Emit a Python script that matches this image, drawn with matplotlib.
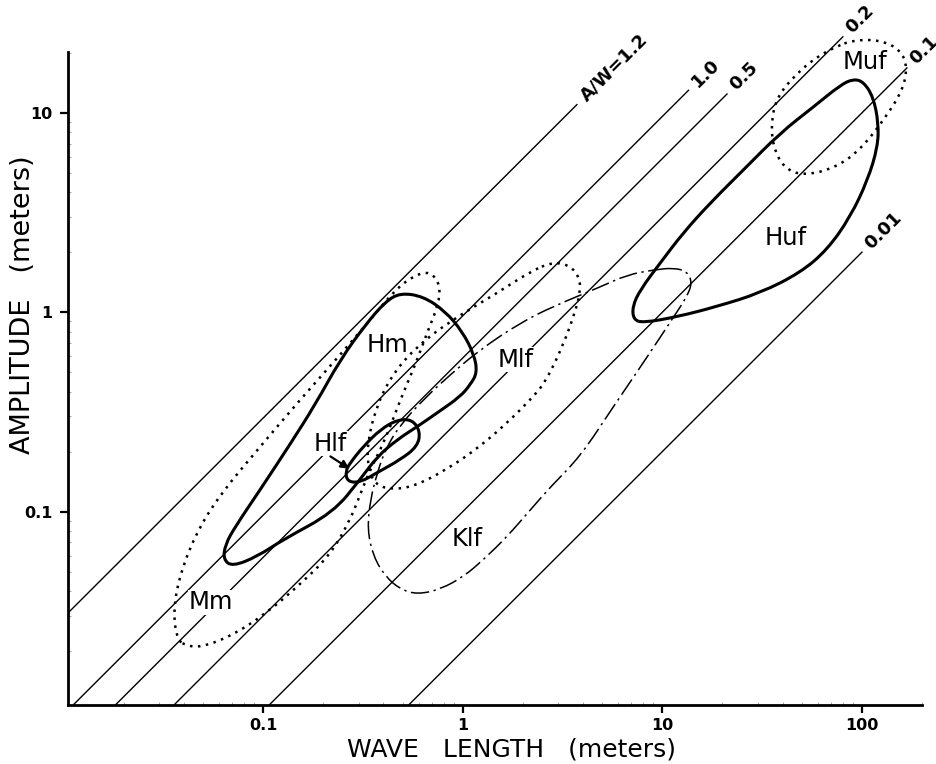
import numpy as np
import matplotlib
matplotlib.use("Agg")
from matplotlib import pyplot as plt
from matplotlib.path import Path
from matplotlib.patches import PathPatch

# A/W reference lines (ratio as drawn, label, wave length where the line stops)
aw_labels = ["A/W=1.2", "1.0", "0.5", "0.2", "0.1", "0.01"]
aw_ratio = [2.95, 0.96, 0.59, 0.30, 0.10, 0.020]
aw_end_w = [3.75, 13.6, 21.2, 80.7, 169, 100.6]

# outlines of the fields, (wave length, amplitude) in meters
hm_w = [0.486, 0.634, 0.817, 0.994, 1.14, 1.18, 1.09, 0.97, 0.745, 0.592, 0.47, 0.373, 0.306,
        0.224, 0.126, 0.0933, 0.070, 0.063, 0.0645, 0.0724, 0.0966, 0.136, 0.182, 0.243, 0.325, 0.409]
hm_a = [1.25, 1.20, 1.01, 0.80, 0.612, 0.497, 0.433, 0.377, 0.313, 0.267, 0.23, 0.189, 0.145,
        0.0989, 0.0724, 0.0595, 0.053, 0.0575, 0.0684, 0.0841, 0.129, 0.217, 0.344, 0.578, 0.865, 1.13]

hlf_w = [0.258, 0.264, 0.306, 0.373, 0.486, 0.592, 0.612, 0.558, 0.47, 0.386, 0.317, 0.273]
hlf_a = [0.159, 0.141, 0.140, 0.157, 0.182, 0.212, 0.252, 0.289, 0.289, 0.258, 0.212, 0.176]

mm_w = [0.0371, 0.0354, 0.0375, 0.0456, 0.0608, 0.0966, 0.153, 0.243, 0.344, 0.459, 0.578, 0.687,
        0.771, 0.754, 0.671, 0.578, 0.486, 0.409, 0.344, 0.306, 0.273, 0.217, 0.153, 0.102,
        0.0684, 0.0483, 0.0407]
mm_a = [0.0228, 0.0305, 0.0456, 0.0767, 0.122, 0.212, 0.364, 0.612, 0.917, 1.30, 1.54, 1.60,
        1.37, 1.09, 0.817, 0.546, 0.364, 0.23, 0.163, 0.122, 0.0912, 0.0608, 0.0431, 0.0305,
        0.0236, 0.0208, 0.0213]

mlf_w = [2.84, 3.46, 3.84, 3.88, 3.66, 3.19, 2.59, 2.18, 1.67, 1.22, 0.836, 0.565, 0.433, 0.364,
         0.336, 0.332, 0.364, 0.433, 0.565, 0.836, 1.49, 2.18]
mlf_a = [1.79, 1.71, 1.49, 1.27, 1.01, 0.687, 0.444, 0.364, 0.279, 0.212, 0.163, 0.133, 0.129,
         0.137, 0.163, 0.217, 0.325, 0.47, 0.649, 0.885, 1.25, 1.60]

klf_w = [11.4, 13.3, 14.1, 13.3, 11.4, 8.41, 5.68, 3.88, 2.75, 2.18, 1.67, 1.27, 1.01, 0.771,
         0.592, 0.486, 0.409, 0.356, 0.332, 0.344, 0.373, 0.409, 0.486, 0.649, 0.865, 1.22,
         1.94, 2.84, 4.89, 6.67, 9.02]
klf_a = [1.67, 1.60, 1.41, 1.20, 0.949, 0.598, 0.336, 0.189, 0.133, 0.102, 0.075, 0.0574, 0.0472,
         0.0407, 0.0384, 0.0407, 0.0472, 0.0595, 0.0813, 0.115, 0.157, 0.205, 0.273, 0.373, 0.486,
         0.649, 0.885, 1.07, 1.34, 1.54, 1.63]

huf_w = [7.16, 8.04, 11.9, 18.9, 31.0, 49.2, 67.1, 87.5, 107, 120, 121, 114, 102, 90.7, 78, 57.1,
         39, 25.5, 17.4, 12.7, 9.77, 7.76, 7.08]
huf_a = [0.917, 0.885, 0.949, 1.07, 1.25, 1.58, 2.06, 3.01, 4.61, 6.76, 8.91, 12.0, 14.3, 14.8,
         13.8, 10.7, 7.94, 5.18, 3.54, 2.5, 1.77, 1.30, 1.07]

muf_w = [90.7, 124, 156, 169, 160, 131, 98.2, 73.6, 50.9, 40.4, 35.6, 35.2, 38.1, 46.4, 58.5, 73.6]
muf_a = [23.2, 23.2, 20.7, 17.0, 13.0, 9.44, 6.53, 5.30, 4.83, 5.30, 6.92, 9.44, 12.3, 15.5, 18.9, 21.4]

# field names and where they are written
field_names = ["Hm", "Mlf", "Hlf", "Klf", "Mm", "Huf", "Muf"]
field_label_w = [0.418, 1.83, 0.217, 1.05, 0.0548, 41.4, 104]
field_label_a = [0.687, 0.578, 0.219, 0.0724, 0.035, 2.36, 18.0]
hlf_arrow_from = (0.217, 0.189)
hlf_arrow_to = (0.27, 0.164)

x_ticks = [0.1, 1, 10, 100]
x_tick_labels = ["0.1", "1", "10", "100"]
y_ticks = [0.1, 1, 10]
y_tick_labels = ["0.1", "1", "10"]
x_range = (0.0105, 200)
y_range = (0.0107, 20.2)


def smooth_outline(ws, amps):
    """Closed quadratic bezier through the midpoints (geometric, log axes)."""
    pts = np.column_stack([ws, amps]).astype(float)
    mids = np.sqrt(pts * np.roll(pts, -1, axis=0))
    verts = [mids[-1]]
    codes = [Path.MOVETO]
    for i in range(len(pts)):
        verts += [pts[i], mids[i]]
        codes += [Path.CURVE3, Path.CURVE3]
    return Path(verts, codes)


fig = plt.figure(figsize=(9.37, 7.64), dpi=100)
ax = fig.add_axes([68 / 937, 59 / 764, 854 / 937, 653 / 764])
ax.set_xscale("log")
ax.set_yscale("log")
ax.set_xlim(*x_range)
ax.set_ylim(*y_range)

# A/W lines
for label, r, w_end in zip(aw_labels, aw_ratio, aw_end_w):
    w_start = max(x_range[0], y_range[0] / r)
    ax.plot([w_start, w_end], [r * w_start, r * w_end], color="black", lw=1.0,
            solid_capstyle="butt", clip_on=False, zorder=2)
    ax.annotate(label, (w_end, r * w_end), xytext=(4, 4), textcoords="offset points",
                rotation=45, rotation_mode="anchor", ha="left", va="center",
                fontsize=13, fontweight="bold", annotation_clip=False)

# fields
styles = [
    (hm_w, hm_a, dict(lw=2.2, ls="-")),
    (hlf_w, hlf_a, dict(lw=2.2, ls="-")),
    (huf_w, huf_a, dict(lw=2.2, ls="-")),
    (mm_w, mm_a, dict(lw=1.8, ls=(0, (1, 2.2)))),
    (mlf_w, mlf_a, dict(lw=1.8, ls=(0, (1, 2.2)))),
    (muf_w, muf_a, dict(lw=1.8, ls=(0, (1, 2.2)))),
    (klf_w, klf_a, dict(lw=1.1, ls=(0, (12, 3, 1.5, 3)))),
]
for ws, amps, st in styles:
    patch = PathPatch(smooth_outline(ws, amps), facecolor="none", edgecolor="black",
                      clip_on=False, zorder=3, **st)
    ax.add_patch(patch)

for name, w, a in zip(field_names, field_label_w, field_label_a):
    ax.text(w, a, name, fontsize=17.5, ha="center", va="center", zorder=5,
            bbox=dict(facecolor="white", edgecolor="none", pad=0.5))

ax.annotate("", xy=hlf_arrow_to, xytext=hlf_arrow_from, zorder=6,
            arrowprops=dict(arrowstyle="-|>", color="black", lw=1.6, mutation_scale=12,
                            shrinkA=0, shrinkB=0))

# axes look
for side in ["top", "right"]:
    ax.spines[side].set_visible(False)
for side in ["left", "bottom"]:
    ax.spines[side].set_linewidth(2.0)
ax.set_xticks(x_ticks)
ax.set_xticklabels(x_tick_labels)
ax.set_yticks(y_ticks)
ax.set_yticklabels(y_tick_labels)
ax.tick_params(which="major", direction="out", length=6, width=1.6, labelsize=11.5)
ax.tick_params(axis="x", which="major", pad=3)
ax.tick_params(axis="y", which="major", pad=5)
ax.tick_params(which="minor", direction="in", length=2.5, width=0.6, color="0.6")
ax.xaxis.set_minor_formatter(matplotlib.ticker.NullFormatter())
ax.yaxis.set_minor_formatter(matplotlib.ticker.NullFormatter())
for lab in ax.get_xticklabels() + ax.get_yticklabels():
    lab.set_fontweight("bold")

fig.text(512 / 937, 1 - 749 / 764, "WAVE   LENGTH   (meters)", fontsize=18,
         ha="center", va="center")
fig.text(23 / 937, 1 - 305 / 764, "AMPLITUDE   (meters)", fontsize=19.5,
         ha="center", va="center", rotation=90)

fig.savefig("out.png", dpi=100)
